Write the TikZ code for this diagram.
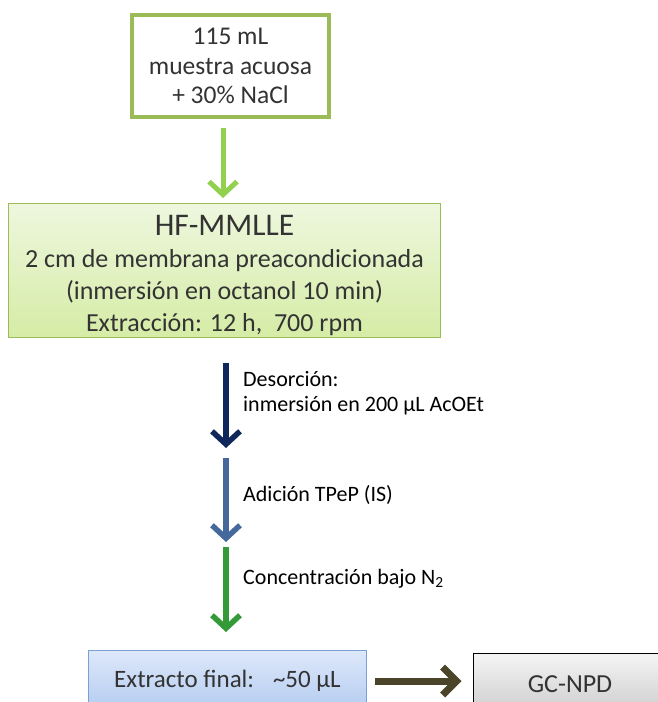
\documentclass[tikz,border=0pt]{standalone}
\usepackage{fontspec}
\setmainfont{Carlito}
\usetikzlibrary{arrows.meta}

\definecolor{samplegreen}{HTML}{9BBB59}
\definecolor{arrowgreen}{HTML}{92D050}
\definecolor{desnavy}{HTML}{10275C}
\definecolor{isblue}{HTML}{46699D}
\definecolor{congreen}{HTML}{349A38}
\definecolor{olive}{HTML}{49442A}
\definecolor{extblue}{HTML}{7BA0D6}

\begin{document}
\begin{tikzpicture}[x=1pt, y=-1pt,
	every node/.style={text=black!80, align=center, inner sep=0pt},
	samplebox/.style={draw=samplegreen, line width=4pt, fill=white,
		minimum width=197pt, minimum height=102pt,
		font=\fontsize{25.5}{29.5}\selectfont},
	hfbox/.style={draw=samplegreen, line width=1pt,
		top color={rgb,255:red,238;green,247;blue,222}, bottom color={rgb,255:red,213;green,236;blue,166},
		minimum width=432pt, minimum height=134pt},
	hftext/.style={font=\fontsize{26}{32}\selectfont},
	extbox/.style={draw=extblue, line width=1pt,
		top color={rgb,255:red,222;green,232;blue,250}, bottom color={rgb,255:red,178;green,203;blue,240},
		minimum width=278pt, minimum height=62pt,
		font=\fontsize{25}{28}\selectfont},
	gcbox/.style={draw=black, line width=1pt,
		top color=black!4, bottom color=black!20,
		minimum width=194pt, minimum height=62pt,
		font=\fontsize{26}{28}\selectfont},
	steplabel/.style={anchor=west, align=left, text=black, font=\fontsize{22}{25}\selectfont},
	flow/.style={line width=5.5pt, -{Straight Barb[length=13pt, width=28pt]}}
]
	\useasboundingbox (0,0) rectangle (658,702);
	\clip (0,0) rectangle (658,702);

	\node [samplebox] (muestra) at (230.5,66) {115 mL\\ muestra acuosa\\ + 30\% NaCl};
	\node [hfbox] (hf) at (224.5,270.5) {};
	\node [hftext] (hfinfo) at (224.5,275.5)
		{{\fontsize{31.5}{36}\selectfont HF-MMLLE}\\
		2 cm de membrana preacondicionada\\
		(inmersión en octanol 10 min)\\
		Extracción: 12 h, \ 700 rpm};
	\node [extbox] (extracto) at (227.5,681) {Extracto final: \ \ \textasciitilde 50 µL};
	\node [gcbox] (gc) at (570,684) {GC-NPD};

	\coordinate (m) at ([xshift=-7.5pt]muestra.south);
	\draw [flow, arrowgreen, line width=5pt, shorten <=9pt, shorten >=5pt] (m) -- (m |- hf.north);

	\coordinate (d1) at (226,363);
	\coordinate (d2) at (226,448);
	\coordinate (a1) at (226,458);
	\coordinate (a2) at (226,542);
	\coordinate (c1) at (226,547);
	\coordinate (c2) at (226,632);

	\draw [flow, desnavy] (d1) -- (d2);
	\draw [flow, isblue] (a1) -- (a2);
	\draw [flow, congreen] (c1) -- (c2);

	\node [steplabel] (desorcion) at (243,393) {Desorción:\\ inmersión en 200 µL AcOEt};
	\node [steplabel] (adicion) at (243,495) {Adición TPeP (IS)};
	\node [steplabel] (concentracion) at (243,579) {Concentración bajo N\textsubscript{2}};

	\draw [olive, line width=7pt, -{Straight Barb[length=14pt, width=28pt]}, shorten <=8pt, shorten >=11pt]
		(extracto.east) -- (extracto.east -| gc.west);
\end{tikzpicture}
\end{document}
